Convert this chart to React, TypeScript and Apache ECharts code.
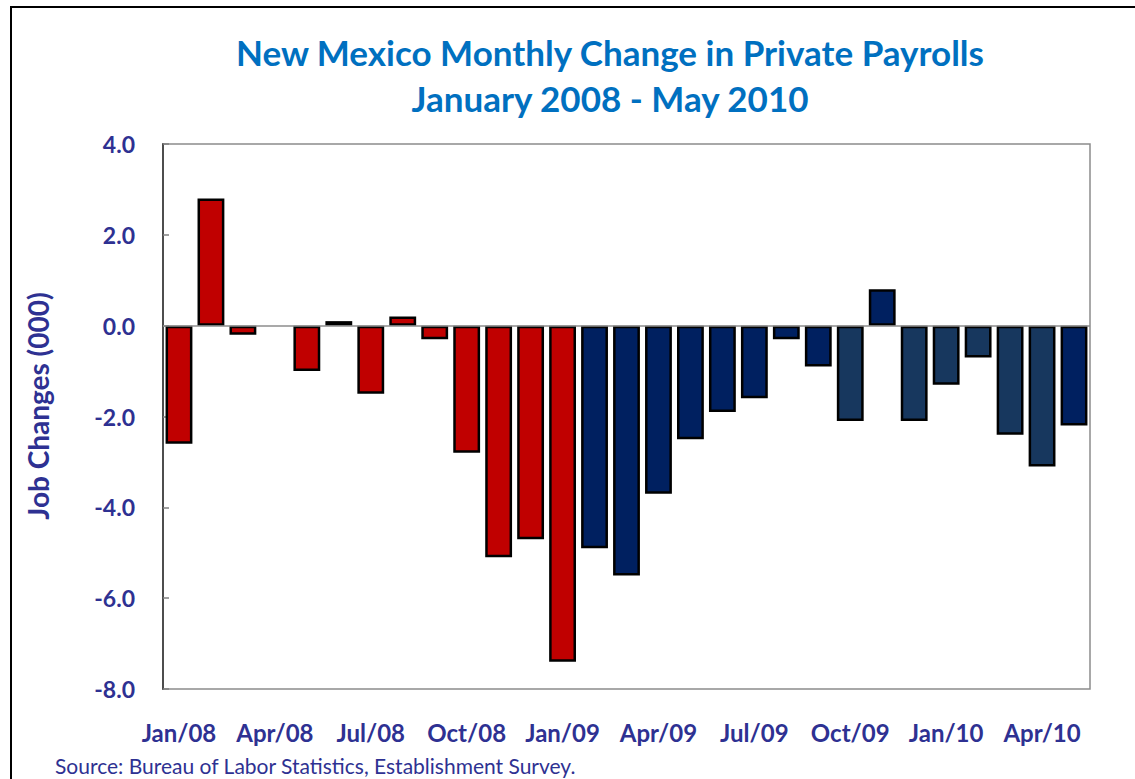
import React, { useEffect, useRef } from "react";
import * as echarts from "echarts";

const months = [
  "Jan/08", "Feb/08", "Mar/08", "Apr/08", "May/08", "Jun/08", "Jul/08", "Aug/08", "Sep/08", "Oct/08", "Nov/08", "Dec/08",
  "Jan/09", "Feb/09", "Mar/09", "Apr/09", "May/09", "Jun/09", "Jul/09", "Aug/09", "Sep/09", "Oct/09", "Nov/09", "Dec/09",
  "Jan/10", "Feb/10", "Mar/10", "Apr/10", "May/10",
];

const jobChanges = [
  -2.6, 2.8, -0.2, 0.0, -1.0, 0.1, -1.5, 0.2, -0.3, -2.8, -5.1, -4.7,
  -7.4, -4.9, -5.5, -3.7, -2.5, -1.9, -1.6, -0.3, -0.9, -2.1, 0.8, -2.1,
  -1.3, -0.7, -2.4, -3.1, -2.2,
];

// shade group of each bar: r = red period, d = dark navy, l = lighter navy
const shadeGroup = [
  "r", "r", "r", "r", "r", "r", "r", "r", "r", "r", "r", "r",
  "r", "d", "d", "d", "d", "d", "d", "d", "d", "l", "d", "l",
  "l", "l", "l", "l", "d",
];

const yTicks = { min: -8, max: 4, interval: 2 };

const titleText = "New Mexico Monthly Change in Private Payrolls";
const subtitleText = "January 2008 - May 2010";
const yAxisTitle = "Job Changes (000)";
const sourceText = "Source: Bureau of Labor Statistics, Establishment Survey.";

const palette: Record<string, string> = { r: "#C00000", d: "#002060", l: "#17375E" };
const labelColor = "#2E3192";
const fontFamily = "Lato, 'Open Sans', sans-serif";

export default function App() {
  const ref = useRef<HTMLDivElement>(null);
  useEffect(() => {
    if (!ref.current) return;
    const chart = echarts.init(ref.current, undefined, { renderer: "svg" });
    chart.setOption({
      animation: false,
      backgroundColor: "#ffffff",
      graphic: [
        {
          type: "rect",
          shape: { x: 11, y: 7, width: 1140, height: 800 },
          style: { fill: "none", stroke: "#000000", lineWidth: 2 },
          silent: true,
        },
        {
          type: "text",
          x: 610,
          y: 52,
          style: {
            text: titleText,
            fill: "#0070C0",
            fontSize: 35,
            fontWeight: "bold",
            fontFamily,
            textAlign: "center",
            textVerticalAlign: "middle",
          },
        },
        {
          type: "text",
          x: 610,
          y: 98,
          style: {
            text: subtitleText,
            fill: "#0070C0",
            fontSize: 35,
            fontWeight: "bold",
            fontFamily,
            textAlign: "center",
            textVerticalAlign: "middle",
          },
        },
        {
          type: "text",
          x: 38,
          y: 406,
          rotation: Math.PI / 2,
          style: {
            text: yAxisTitle,
            fill: labelColor,
            fontSize: 28,
            fontWeight: "bold",
            fontFamily,
            textAlign: "center",
            textVerticalAlign: "middle",
          },
        },
        {
          type: "text",
          left: 55,
          top: 755,
          style: { text: sourceText, fill: labelColor, fontSize: 21, fontFamily },
        },
      ],
      grid: { left: 163, top: 144, right: 45, bottom: 90, show: true, borderColor: "#8C8C8C", borderWidth: 1.5 },
      xAxis: {
        type: "category",
        data: months,
        axisLine: { show: false, onZero: false },
        axisTick: { show: false },
        axisLabel: {
          interval: 2,
          margin: 31,
          color: labelColor,
          fontSize: 24,
          fontWeight: "bold",
          fontFamily,
        },
      },
      yAxis: {
        type: "value",
        min: yTicks.min,
        max: yTicks.max,
        interval: yTicks.interval,
        axisLine: { show: true, lineStyle: { color: "#4D4D4D", width: 2 } },
        axisTick: { show: true, inside: true, length: 6, lineStyle: { color: "#808080", width: 1.5 } },
        splitLine: { show: false },
        axisLabel: {
          margin: 28,
          color: labelColor,
          fontSize: 23,
          fontWeight: "bold",
          fontFamily,
          formatter: (v: number) => v.toFixed(1),
        },
      },
      series: [
        {
          type: "bar",
          barCategoryGap: "16%",
          data: jobChanges.map((v, i) => ({
            value: v,
            itemStyle: {
              color: palette[shadeGroup[i]],
              borderColor: "#000000",
              borderWidth: v === 0 ? 0 : 2.5,
            },
          })),
          markLine: {
            silent: true,
            symbol: "none",
            label: { show: false },
            lineStyle: { color: "#8C8C8C", width: 1.5, type: "solid" },
            data: [{ yAxis: 0 }],
          },
        },
      ],
    });
    return () => chart.dispose();
  }, []);
  return (
    <div
      ref={ref}
      style={{ position: "fixed", left: 0, top: 0, width: 1135, height: 779, background: "#fff" }}
    />
  );
}
